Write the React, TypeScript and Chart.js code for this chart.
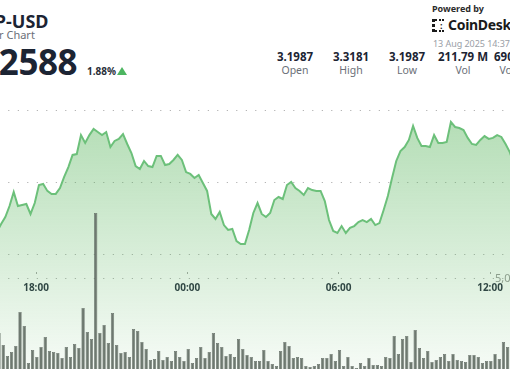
import React, { useEffect, useRef } from 'react';
import { Chart, registerables } from 'chart.js';

Chart.register(...registerables);

// Minutes after 00:00 on 12 Aug; samples every 10 minutes
const PRICE_START_MIN = 987; // 16:27
const VOLUME_START_MIN = 992; // 16:32
const STEP_MIN = 10;

const priceValues = [
  3.2153, 3.2208, 3.2257, 3.2333, 3.2431, 3.2333, 3.234, 3.2347, 3.2278, 3.2354,
  3.2479, 3.2486, 3.2438, 3.2417, 3.2417, 3.2458, 3.2535, 3.2604, 3.2688, 3.2694,
  3.2826, 3.2771, 3.2826, 3.2868, 3.2847, 3.2826, 3.2847, 3.2743, 3.2785, 3.2799,
  3.2833, 3.2764, 3.2701, 3.2611, 3.259, 3.2646, 3.2611, 3.2604, 3.2681, 3.2681,
  3.2618, 3.2625, 3.2653, 3.2688, 3.2653, 3.2569, 3.2556, 3.2528, 3.2549, 3.2493,
  3.2438, 3.2278, 3.2243, 3.2292, 3.2201, 3.2167, 3.2174, 3.209, 3.2069, 3.2069,
  3.2167, 3.2285, 3.2354, 3.2278, 3.2257, 3.2285, 3.2375, 3.2396, 3.2382, 3.2479,
  3.25, 3.2458, 3.2438, 3.241, 3.2458, 3.2444, 3.2438, 3.2438, 3.2368, 3.2236,
  3.216, 3.2146, 3.2194, 3.2146, 3.2181, 3.2194, 3.2222, 3.2236, 3.2222, 3.2243,
  3.2201, 3.2215, 3.2306, 3.2403, 3.2528, 3.2646, 3.2715, 3.2743, 3.2792, 3.2889,
  3.2806, 3.275, 3.275, 3.2743, 3.2826, 3.2771, 3.2771, 3.2778, 3.2917, 3.2882,
  3.2875, 3.2861, 3.2806, 3.2764, 3.2757, 3.2792, 3.2819, 3.2799, 3.2806, 3.2826,
  3.2813, 3.2764, 3.2708, 3.2618,
];

const volumeValues = [
  2033000, 1374000, 769000, 989000, 1319000, 3187000, 2418000, 385000, 1099000, 714000,
  1264000, 1813000, 1044000, 989000, 934000, 659000, 1264000, 714000, 1429000, 1209000,
  3407000, 2088000, 1703000, 8626000, 2033000, 2473000, 1484000, 3132000, 1374000, 934000,
  989000, 714000, 2253000, 2143000, 1538000, 1154000, 549000, 604000, 1044000, 549000,
  714000, 495000, 1044000, 714000, 495000, 1154000, 385000, 659000, 1264000, 659000,
  989000, 2033000, 1484000, 1264000, 769000, 879000, 714000, 1703000, 1154000, 824000,
  714000, 495000, 495000, 1099000, 495000, 330000, 220000, 1044000, 1538000, 1319000,
  659000, 714000, 659000, 220000, 165000, 220000, 330000, 659000, 659000, 879000,
  495000, 1099000, 220000, 714000, 220000, 110000, 385000, 220000, 659000, 275000,
  275000, 220000, 714000, 659000, 1868000, 879000, 1703000, 1868000, 440000, 2198000,
  1209000, 659000, 1044000, 440000, 549000, 714000, 879000, 495000, 879000, 549000,
  495000, 440000, 824000, 824000, 714000, 385000, 495000, 495000, 879000, 604000,
  1538000, 1264000, 1429000,
];

const timeTickMinutes = [1080, 1440, 1800, 2160];
const timeTickLabels = ['18:00', '00:00', '06:00', '12:00'];
const priceGridValues = [3.2, 3.25, 3.3];
const volumeTickValues = [5000000];
const volumeTickLabels = ['5,000,000'];

const statValues = ['3.1987', '3.3181', '3.1987', '211.79 M', '690.43 M'];
const statLabels = ['Open', 'High', 'Low', 'Vol', 'Vol USD'];

const X_MIN = 994.36;
const X_MAX = 2302.73;
const PRICE_MIN = 3.120139;
const PRICE_MAX = 3.313889;
const VOL_MIN = 54945;
const VOL_MAX = 15384615;
const X_AXIS_AT_PRICE = 3.1875;

const FONT = '"Noto Sans", "Open Sans", sans-serif';
const DARK = '#1c2433';

export default function App() {
  const canvasRef = useRef<HTMLCanvasElement | null>(null);

  useEffect(() => {
    const canvas = canvasRef.current;
    if (!canvas) return;
    const chart = new Chart(canvas, {
      type: 'bar',
      data: {
        datasets: [
          {
            type: 'bar',
            label: 'Volume',
            data: volumeValues.map((v, i) => ({ x: VOLUME_START_MIN + i * STEP_MIN, y: v })),
            xAxisID: 'x',
            yAxisID: 'yv',
            backgroundColor: '#6e7970',
            borderColor: '#525c55',
            borderWidth: 0.6,
            barPercentage: 0.78,
            categoryPercentage: 1,
            order: 0,
          } as any,
          {
            type: 'line',
            label: 'Price',
            data: priceValues.map((v, i) => ({ x: PRICE_START_MIN + i * STEP_MIN, y: v })),
            xAxisID: 'x',
            yAxisID: 'y',
            borderColor: '#6cc07a',
            borderWidth: 2,
            pointRadius: 0,
            tension: 0,
            fill: 'start',
            backgroundColor: (ctx: any) => {
              const { chart: c } = ctx;
              const area = c.chartArea;
              if (!area) return 'rgba(76,175,80,0.25)';
              const g = c.ctx.createLinearGradient(0, area.top, 0, area.bottom);
              g.addColorStop(0, 'rgba(76,175,80,0.46)');
              g.addColorStop(1, 'rgba(76,175,80,0.05)');
              return g;
            },
            order: 1,
          } as any,
        ],
      },
      options: {
        responsive: false,
        animation: false,
        devicePixelRatio: 1,
        layout: { padding: 0, autoPadding: false },
        plugins: { legend: { display: false }, tooltip: { enabled: false } },
        scales: {
          x: {
            type: 'linear',
            min: X_MIN,
            max: X_MAX,
            offset: false,
            bounds: 'data',
            position: { y: X_AXIS_AT_PRICE } as any,
            afterBuildTicks: (s: any) => {
              s.ticks = timeTickMinutes.map((v) => ({ value: v }));
            },
            ticks: {
              autoSkip: false,
              maxRotation: 0,
              padding: 8.5,
              color: '#2a3242',
              font: { family: FONT, size: 10, weight: 'bold' },
              callback: (_v: any, i: number) => timeTickLabels[i],
            },
            grid: { drawOnChartArea: false, drawTicks: true, tickLength: 2, tickColor: '#a8a8a8', offset: false },
            border: { display: false },
          } as any,
          y: {
            type: 'linear',
            position: 'right',
            min: PRICE_MIN,
            max: PRICE_MAX,
            bounds: 'data',
            afterBuildTicks: (s: any) => {
              s.ticks = priceGridValues.map((v) => ({ value: v }));
            },
            ticks: { display: false },
            grid: { color: '#a3a3a3', lineWidth: 1, drawTicks: false },
            border: { display: false, dash: [1, 8.5], dashOffset: 1.2 },
          } as any,
          yv: {
            type: 'linear',
            position: 'right',
            min: VOL_MIN,
            max: VOL_MAX,
            bounds: 'data',
            afterBuildTicks: (s: any) => {
              s.ticks = volumeTickValues.map((v) => ({ value: v }));
            },
            afterFit: (s: any) => {
              s.paddingTop = 0;
              s.paddingBottom = 0;
            },
            ticks: {
              mirror: true,
              padding: -5,
              color: '#9a9a9a',
              font: { family: FONT, size: 11 },
              callback: (_v: any, i: number) => volumeTickLabels[i],
            },
            grid: { color: '#a3a3a3', lineWidth: 1, drawTicks: false },
            border: { display: false, dash: [1, 8.5], dashOffset: 1.2 },
          } as any,
        },
      },
    });
    return () => chart.destroy();
  }, []);

  const abs = (s: React.CSSProperties): React.CSSProperties => ({
    position: 'absolute',
    whiteSpace: 'nowrap',
    lineHeight: 1,
    fontFamily: FONT,
    margin: 0,
    ...s,
  });

  return (
    <div
      style={{
        position: 'fixed',
        left: 0,
        top: 0,
        width: 510,
        height: 369,
        overflow: 'hidden',
        background: '#ffffff',
      }}
    >
      <div style={abs({ left: -29, top: 12, fontSize: 18, fontWeight: 700, color: DARK })}>XRP-USD</div>
      <div style={abs({ left: -38, top: 29, fontSize: 11, color: '#6b6f78' })}>24 Hour Chart</div>
      <div style={abs({ left: -30, top: 44, fontSize: 35, fontWeight: 700, color: DARK, letterSpacing: -0.5 })}>3.2588</div>
      <div style={abs({ left: 87, top: 66, fontSize: 10, fontWeight: 700, color: '#2a2f3a' })}>1.88%</div>
      <div
        style={{
          position: 'absolute',
          left: 117,
          top: 67,
          width: 0,
          height: 0,
          borderLeft: '5px solid transparent',
          borderRight: '5px solid transparent',
          borderBottom: '8px solid #4cb560',
        }}
      />

      <div style={abs({ left: 432, top: 3.5, fontSize: 9, fontWeight: 700, color: '#2b2b2b' })}>Powered by</div>
      <div
        style={{
          position: 'absolute',
          left: 432,
          top: 19,
          width: 9,
          height: 9,
          borderLeft: '3px dotted #1a1a1a',
          borderTop: '2px dotted #1a1a1a',
          borderBottom: '2px dotted #1a1a1a',
        }}
      />
      <div style={abs({ left: 440, top: 21, fontSize: 9, fontWeight: 700, color: '#1a1a1a' })}>:</div>
      <div style={abs({ left: 448, top: 17.5, fontSize: 14, fontWeight: 700, color: '#1a1a1a', letterSpacing: -0.3 })}>
        CoinDesk Data
      </div>
      <div style={abs({ left: 433, top: 38.5, fontSize: 9, letterSpacing: -0.05, color: '#9a9ea6' })}>13 Aug 2025 14:37 UTC</div>

      {statValues.map((v, i) => (
        <div key={'v' + i} style={abs({ left: 267 + i * 56, top: 51, width: 56, textAlign: 'center', fontSize: 11.5, fontWeight: 700, color: DARK })}>
          {v}
        </div>
      ))}
      {statLabels.map((l, i) => (
        <div key={'l' + i} style={abs({ left: 267 + i * 56, top: 64.5, width: 56, textAlign: 'center', fontSize: 10.5, color: '#6b6f78' })}>
          {l}
        </div>
      ))}

      <div style={{ position: 'absolute', left: 0, top: 90, width: 550, height: 279 }}>
        <canvas ref={canvasRef} width={550} height={279} style={{ display: 'block', width: 550, height: 279 }} />
      </div>
    </div>
  );
}
